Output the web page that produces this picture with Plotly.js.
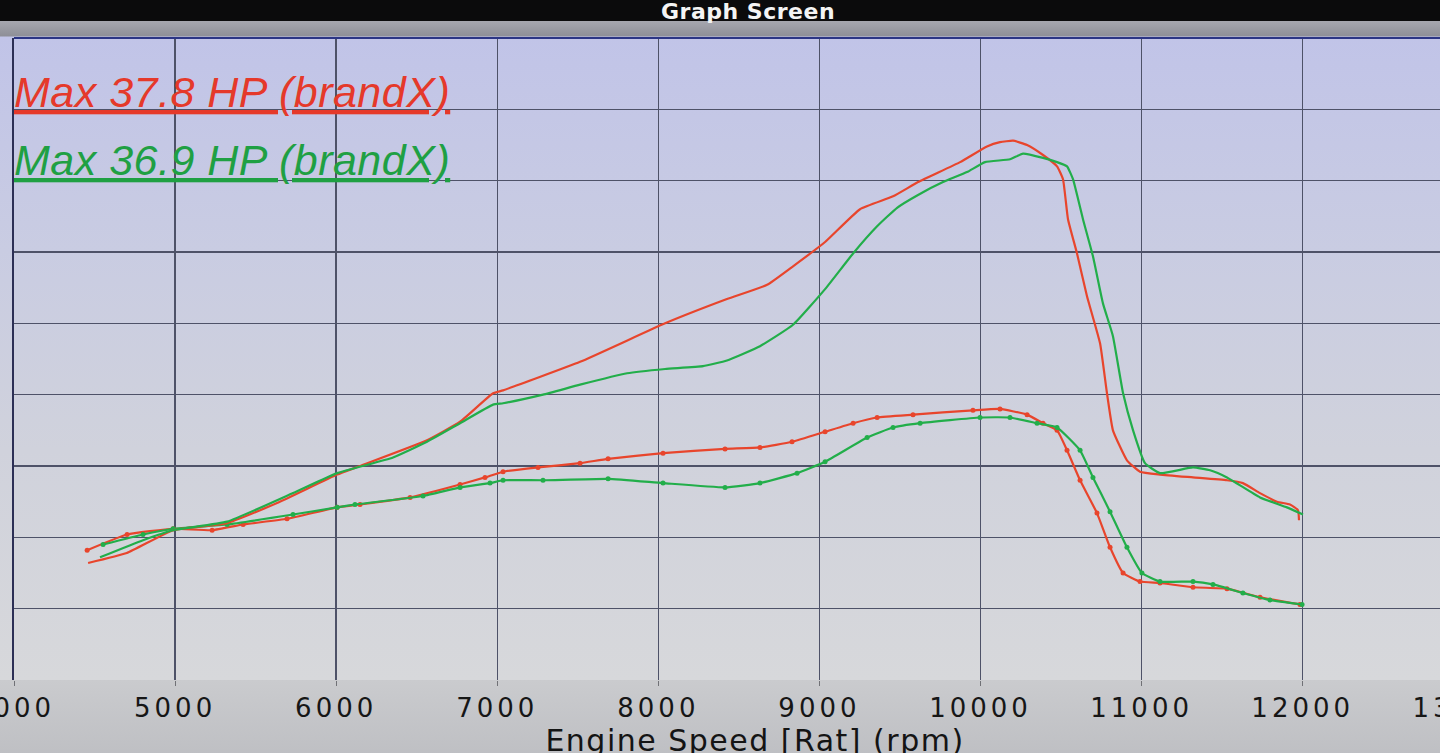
<!DOCTYPE html>
<html><head><meta charset="utf-8">
<script src="https://cdn.plot.ly/plotly-3.0.1.min.js"></script>
<style>
html,body{margin:0;padding:0;overflow:hidden;background:#c5c6ca;width:1440px;height:753px;}
#chart{width:1500px;height:770px;background:linear-gradient(to bottom,#0b0b0c 0px,#0b0b0c 21px,#a6a7af 21px,#8e8f97 36px,#c1c4e8 37px,#c9cce2 250px,#d0d2dc 450px,#d7d8db 680px,#cacbce 680px,#bcbdc1 770px);}
.xtick text{letter-spacing:4px;}
.g-xtitle text{letter-spacing:1.5px;}
.annotation-text{letter-spacing:0.5px;}
</style></head><body><div id="chart"></div><script>
// x tick labels
const xTickVals = [4000,5000,6000,7000,8000,9000,10000,11000,12000,13000];
const xTickText = ['4000','5000','6000','7000','8000','9000','10000','11000','12000','13000'];

// Power curves (HP)
const redHpRpm = [4460,4700,4988,5323,5633,6006,6148,6564,6769,6974,7036,7514,8042,8426,8675,8836,9035,9252,9457,9612,9873,10040,10121,10202,10289,10388,10475,10512,10543,10599,10661,10742,10785,10822,10909,10990,11114,11319,11530,11629,11735,11840,11921,11971,11977];
const redHp = [8.2,8.9,10.5,11.0,12.4,14.4,15.0,16.8,18.1,20.1,20.3,22.3,25.0,26.7,27.7,29.0,30.7,33.0,33.9,34.9,36.3,37.4,37.7,37.8,37.5,36.8,36.0,35.1,32.3,29.9,26.9,23.6,20.1,17.5,15.4,14.6,14.4,14.2,14.0,13.8,13.1,12.5,12.3,11.9,11.2];

const greenHpRpm = [4534,4801,4988,5323,5732,6006,6353,6564,6769,6974,7036,7284,7514,7806,8042,8277,8426,8631,8836,9035,9209,9358,9482,9612,9767,9916,10028,10183,10264,10388,10475,10537,10574,10636,10698,10760,10822,10885,10947,11021,11114,11319,11425,11530,11735,11902,12002];
const greenHp = [8.6,9.8,10.5,11.1,13.1,14.5,15.6,16.7,18.0,19.3,19.4,20.0,20.7,21.5,21.8,22.0,22.4,23.4,24.9,27.4,29.9,31.8,33.1,34.0,34.9,35.6,36.3,36.5,36.9,36.6,36.3,36.0,35.1,32.3,29.7,26.4,24.1,20.1,17.5,15.2,14.5,14.9,14.7,14.2,12.8,12.1,11.6];

// Torque curves (with dots)
const redTqRpm = [4454,4702,4988,5230,5422,5695,6006,6148,6459,6769,6924,7036,7253,7514,7688,8029,8414,8631,8830,9035,9209,9358,9581,9953,10121,10289,10388,10475,10537,10618,10723,10804,10885,10990,11114,11319,11530,11735,11983];
const redTq = [9.1,10.2,10.6,10.5,10.9,11.3,12.1,12.3,12.8,13.7,14.2,14.6,14.9,15.2,15.5,15.9,16.2,16.3,16.7,17.4,18.0,18.4,18.6,18.9,19.0,18.6,18.0,17.5,16.1,14.0,11.7,9.3,7.5,6.9,6.8,6.5,6.4,5.8,5.3];

const greenTqRpm = [4553,4801,4988,5323,5732,6006,6117,6539,6769,6955,7036,7284,7688,8029,8414,8631,8861,9035,9296,9457,9625,9997,10183,10351,10475,10618,10698,10804,10909,11002,11114,11319,11443,11629,11797,11996];
const greenTq = [9.5,10.2,10.6,10.9,11.6,12.1,12.3,12.9,13.5,13.8,14.0,14.0,14.1,13.8,13.5,13.8,14.5,15.3,17.0,17.7,18.0,18.4,18.4,18.0,17.7,16.1,14.2,11.8,9.3,7.5,6.9,6.9,6.7,6.1,5.6,5.3];

const legendTexts = ['Max 37.8 HP (brandX)','Max 36.9 HP (brandX)'];
const RED = '#e8452c', GREEN = '#22ae4a';

const traces = [
  {x:redTqRpm, y:redTq, type:'scatter', mode:'lines+markers', name:'brandX torque (red)', line:{color:RED,width:2.2,shape:'spline',smoothing:0.4}, marker:{color:RED,size:5}},
  {x:greenTqRpm, y:greenTq, type:'scatter', mode:'lines+markers', name:'brandX torque (green)', line:{color:GREEN,width:2.2,shape:'spline',smoothing:0.4}, marker:{color:GREEN,size:5}},
  {x:redHpRpm, y:redHp, type:'scatter', mode:'lines', name:legendTexts[0], line:{color:RED,width:2.2,shape:'spline',smoothing:0.4}},
  {x:greenHpRpm, y:greenHp, type:'scatter', mode:'lines', name:legendTexts[1], line:{color:GREEN,width:2.2,shape:'spline',smoothing:0.4}}
];

const layout = {
  width:1500, height:770,
  margin:{l:14,r:4,t:38,b:90,pad:0},
  paper_bgcolor:'rgba(0,0,0,0)', plot_bgcolor:'rgba(0,0,0,0)',
  showlegend:false,
  xaxis:{range:[4000,13200], tickmode:'array', tickvals:xTickVals, ticktext:xTickText,
    showgrid:true, gridcolor:'#4e5268', gridwidth:1.4, ticks:'outside', ticklen:5, tickcolor:'#707176',
    ticklabeloverflow:'allow',
    tickfont:{family:'DejaVu Sans', size:26, color:'#161616'}, zeroline:false, showline:false,
    title:{text:'Engine Speed [Rat] (rpm)', font:{family:'DejaVu Sans', size:30, color:'#141414'}, standoff:6},
    fixedrange:true},
  yaxis:{range:[0,45], tick0:0, dtick:5, showgrid:true, gridcolor:'#4e5268', gridwidth:1.4,
    showticklabels:false, zeroline:false, showline:true, linecolor:'#2c2f55', linewidth:2, ticks:'', fixedrange:true},
  shapes:[{type:'line', xref:'paper', yref:'paper', x0:0, x1:1, y0:1, y1:1, line:{color:'#2b3585', width:2}}],
  annotations:[
    {text:'Graph Screen', xref:'paper', yref:'paper', x:0.4953, y:1.042, xanchor:'center', yanchor:'middle', showarrow:false,
      font:{family:'DejaVu Sans', size:22, weight:700, color:'#f4f4f4'}},
    {text:legendTexts[0], xref:'paper', yref:'paper', x:-0.0013, y:0.916, xanchor:'left', yanchor:'middle', showarrow:false,
      font:{family:'Liberation Sans', size:43, style:'italic', lineposition:'under', color:'#e5392a'}},
    {text:legendTexts[1], xref:'paper', yref:'paper', x:-0.0013, y:0.81, xanchor:'left', yanchor:'middle', showarrow:false,
      font:{family:'Liberation Sans', size:43, style:'italic', lineposition:'under', color:'#1fa043'}}
  ]
};

Plotly.newPlot('chart', traces, layout, {staticPlot:true, displayModeBar:false});
</script></body></html>
